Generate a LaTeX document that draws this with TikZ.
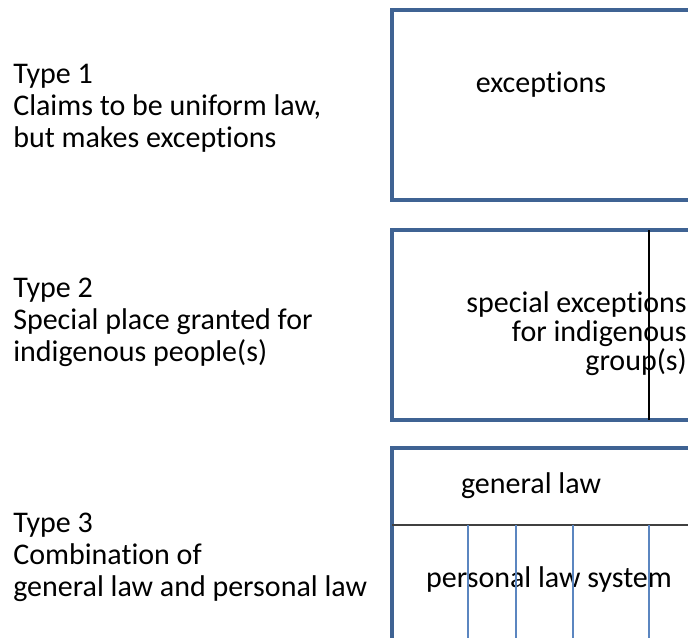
\documentclass[tikz,border=0pt]{standalone}
\usepackage{fontspec}
\setmainfont{Carlito}[Ligatures=NoCommon]
\definecolor{frameblue}{HTML}{3F6393}
\definecolor{colblue}{HTML}{5B86C0}
\definecolor{rulegray}{HTML}{404040}

\begin{document}
\begin{tikzpicture}[x=0.75pt,y=-0.75pt,
  frame/.style={draw=frameblue,line width=2.4pt},
  txt/.style={font=\fontsize{22.5}{24}\selectfont,inner sep=0pt},
  boxtxt/.style={font=\fontsize{22.5}{21.4}\selectfont,inner sep=0pt}]
  \useasboundingbox (0,0) rectangle (688,637);
  \fill[white] (0,0) rectangle (688,637);
  % type 1: uniform law with exceptions
  \node[txt,align=left,anchor=base west] (type1) at (13,147) {Type 1\\Claims to be uniform law,\\but makes exceptions};
  \draw[frame] (392,10) rectangle (720,200);
  \node[boxtxt,anchor=base] (exc) at (541,92) {exceptions};
  % type 2: special place for indigenous groups
  \node[txt,align=left,anchor=base west] (type2) at (13,361) {Type 2\\Special place granted for\\indigenous people(s)};
  \draw[frame] (392,230) rectangle (720,420);
  \node[boxtxt,align=right,anchor=base east] (spec) at (687,370) {special exceptions\\for indigenous\\group(s)};
  \draw[black,line width=0.8pt] (649,230) -- (649,420);
  % type 3: general law plus personal law
  \node[txt,align=left,anchor=base west] (type3) at (13,596) {Type 3\\Combination of\\general law and personal law};
  \draw[frame] (392,700) -- (392,448) -- (720,448);
  \draw[rulegray,line width=1.1pt] (392,525) -- (720,525);
  \node[boxtxt,anchor=base] (gen) at (531,493) {general law};
  \node[boxtxt,anchor=base] (pers) at (549,587) {personal law system};
  \foreach \x in {468,516,573,649}
    \draw[colblue,line width=0.8pt] (\x,525) -- (\x,640);
\end{tikzpicture}
\end{document}
